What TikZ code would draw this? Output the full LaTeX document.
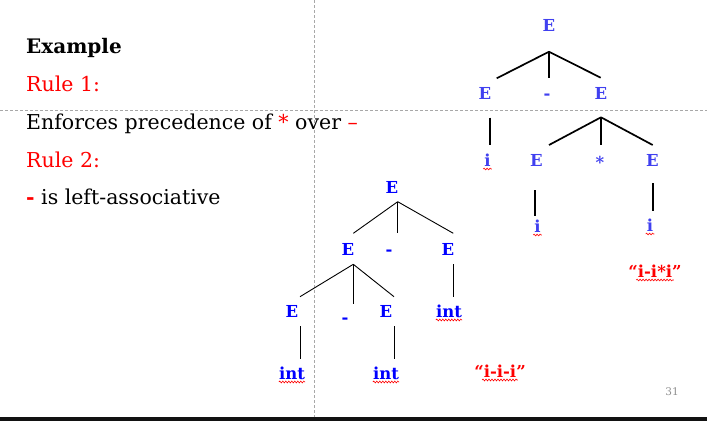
\documentclass[tikz,border=0pt]{standalone}
\usepackage{fontspec}
\setmainfont{DejaVu Serif}
\usetikzlibrary{decorations.pathmorphing}
\definecolor{topblue}{HTML}{4040F0}
\definecolor{botblue}{HTML}{0000FF}
\definecolor{guide}{HTML}{A8A8A8}
\definecolor{pgnum}{HTML}{909090}
\tikzset{
  body/.style={anchor=base west,inner sep=0pt,font=\fontsize{20.5}{24}\selectfont},
  sym/.style={anchor=base,inner sep=0pt,font=\fontsize{16.5}{20}\selectfont\bfseries},
  tsym/.style={sym,text=topblue},
  bsym/.style={sym,text=botblue},
  quote/.style={sym,text=red},
  tline/.style={line width=1.7pt,black},
  bline/.style={line width=0.9pt,black},
  squig/.style={red,line width=0.6pt,decorate,decoration={snake,amplitude=0.9pt,segment length=3pt}},
  guideline/.style={guide,line width=0.8pt,dash pattern=on 3pt off 2pt}
}
\begin{document}
\begin{tikzpicture}[x=1pt,y=-1pt]
\useasboundingbox (0,0) rectangle (707,421);
\fill[white] (0,0) rectangle (707,421);
% guide lines
\draw[guideline] (0,110) -- (707,110);
\draw[guideline] (314,0) -- (314,421);
% bottom bar
\fill[black!93] (0,417) rectangle (707,421);
% left text
\node[body,font=\fontsize{20}{24}\selectfont\bfseries] (ex) at (26,53) {Example};
\node[body,text=red] (r1) at (26,91) {Rule 1:};
\node[body] (enf) at (26,129) {Enforces precedence of \textcolor{red}{*} over \textcolor{red}{–}};
\node[body,text=red] (r2) at (26,167) {Rule 2:};
\node[body] (la) at (26,204) {\textcolor{red}{\bfseries -} is left-associative};
% page number
\node[anchor=base,inner sep=0pt,text=pgnum,font=\fontsize{10.5}{12}\selectfont] (pg) at (672,395) {31};

% ---------- top tree ----------
\node[tsym] (tE) at (549,31) {E};
\node[tsym] (tEl) at (485,99) {E};
\node[tsym] (tm) at (547,99) {-};
\node[tsym] (tEr) at (601,99) {E};
\node[tsym] (ti1) at (487.5,166) {i};
\node[tsym] (tE2) at (536.5,166) {E};
\node[tsym] (tst) at (600,168) {*};
\node[tsym] (tE3) at (652.5,166) {E};
\node[tsym] (ti2) at (537.5,232) {i};
\node[tsym] (ti3) at (650,231) {i};
\node[quote] (tq) at (655,277) {“i-i*i”};

\coordinate (tj1) at (549,51.7);
\coordinate (tj1a) at (496.7,78.3);
\coordinate (tj1b) at (549,77.7);
\coordinate (tj1c) at (600.7,77.7);
\draw[tline] (tj1) -- (tj1a);
\draw[tline] (tj1) -- (tj1b);
\draw[tline] (tj1) -- (tj1c);
\coordinate (tj2) at (601,117.3);
\coordinate (tj2a) at (549,145);
\coordinate (tj2b) at (601,145);
\coordinate (tj2c) at (652.7,145);
\draw[tline] (tj2) -- (tj2a);
\draw[tline] (tj2) -- (tj2b);
\draw[tline] (tj2) -- (tj2c);
\coordinate (tl1a) at (490,117.7);
\coordinate (tl1b) at (490,145);
\draw[tline] (tl1a) -- (tl1b);
\coordinate (tl2a) at (535,190);
\coordinate (tl2b) at (535,216);
\draw[tline] (tl2a) -- (tl2b);
\coordinate (tl3a) at (652.7,183.3);
\coordinate (tl3b) at (652.7,210.7);
\draw[tline] (tl3a) -- (tl3b);

% ---------- bottom tree ----------
\node[bsym] (bE) at (392,193) {E};
\node[bsym] (bEl) at (348,255) {E};
\node[bsym] (bm1) at (389,255) {-};
\node[bsym] (bEr) at (448,255) {E};
\node[bsym] (bE3) at (292,317) {E};
\node[bsym] (bm2) at (345,323) {-};
\node[bsym] (bE4) at (386,317) {E};
\node[bsym] (bint1) at (449,317) {int};
\node[bsym] (bint2) at (292,379) {int};
\node[bsym] (bint3) at (386,379) {int};
\node[quote] (bq) at (500,377) {“i-i-i”};

\coordinate (bj1) at (397.7,201.7);
\coordinate (bj1a) at (353.3,233.3);
\coordinate (bj1b) at (397.7,233.3);
\coordinate (bj1c) at (453.3,233.3);
\draw[bline] (bj1) -- (bj1a);
\draw[bline] (bj1) -- (bj1b);
\draw[bline] (bj1) -- (bj1c);
\coordinate (bj2) at (353.3,264.3);
\coordinate (bj2a) at (300,296.7);
\coordinate (bj2b) at (353.3,304.3);
\coordinate (bj2c) at (394,296.7);
\draw[bline] (bj2) -- (bj2a);
\draw[bline] (bj2) -- (bj2b);
\draw[bline] (bj2) -- (bj2c);
\coordinate (bl1a) at (453.3,264.3);
\coordinate (bl1b) at (453.3,296.7);
\draw[bline] (bl1a) -- (bl1b);
\coordinate (bl2a) at (300,326);
\coordinate (bl2b) at (300,359.3);
\draw[bline] (bl2a) -- (bl2b);
\coordinate (bl3a) at (394.3,326);
\coordinate (bl3b) at (394.3,359.3);
\draw[bline] (bl3a) -- (bl3b);

% ---------- spell-check squiggles ----------
\draw[squig] ([xshift=-1pt,yshift=-3pt]ti1.base west) -- ([xshift=1pt,yshift=-3pt]ti1.base east);
\draw[squig] ([xshift=-1pt,yshift=-3pt]ti2.base west) -- ([xshift=1pt,yshift=-3pt]ti2.base east);
\draw[squig] ([xshift=-1pt,yshift=-3pt]ti3.base west) -- ([xshift=1pt,yshift=-3pt]ti3.base east);
\draw[squig] ([xshift=8pt,yshift=-3pt]tq.base west) -- ([xshift=-8pt,yshift=-3pt]tq.base east);
\draw[squig] ([yshift=-3pt]bint1.base west) -- ([yshift=-3pt]bint1.base east);
\draw[squig] ([yshift=-3pt]bint2.base west) -- ([yshift=-3pt]bint2.base east);
\draw[squig] ([yshift=-3pt]bint3.base west) -- ([yshift=-3pt]bint3.base east);
\draw[squig] ([xshift=8pt,yshift=-3pt]bq.base west) -- ([xshift=-8pt,yshift=-3pt]bq.base east);
\end{tikzpicture}
\end{document}
